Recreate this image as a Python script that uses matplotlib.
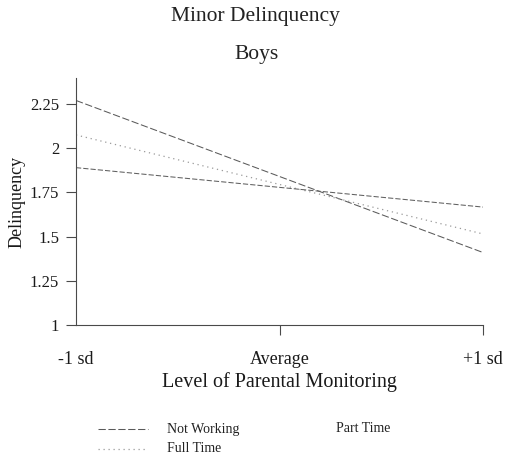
import matplotlib
matplotlib.use("Agg")
import matplotlib.pyplot as plt
from matplotlib.lines import Line2D

# data
x_pos = [-1, 1]
x_ticks = [-1, 0, 1]
x_labels = ["-1 sd", "Average", "+1 sd"]
y_ticks = [1, 1.25, 1.5, 1.75, 2, 2.25]
y_labels = ["1", "1.25", "1.5", "1.75", "2", "2.25"]

not_working = [2.27, 1.41]
full_time = [2.075, 1.515]
part_time = [1.89, 1.667]

plt.rcParams["font.family"] = ["Liberation Serif", "DejaVu Serif"]

fig = plt.figure(figsize=(5.05, 4.59), dpi=100)
ax = fig.add_axes([76 / 505, 1 - 325 / 459, 407 / 505, (325 - 78) / 459])

axis_col = "#4a4a4a"
styles = {
    "nw": dict(color="#5a5a5a", lw=0.75, dashes=(7, 2.5)),
    "ft": dict(color="#9a9a9a", lw=0.9, dashes=(1, 3)),
    "pt": dict(color="#606060", lw=0.75, dashes=(5, 2)),
}
ax.plot(x_pos, not_working, **styles["nw"])
ax.plot(x_pos, full_time, **styles["ft"])
ax.plot(x_pos, part_time, **styles["pt"])

ax.set_xlim(-1, 1)
ax.set_ylim(1, 1 + (325 - 78) / 176.8)

ax.set_xticks(x_ticks)
ax.set_xticklabels(x_labels, fontsize=13, color="#1a1a1a")
ax.set_yticks(y_ticks)
ax.set_yticklabels(y_labels, fontsize=12, color="#1a1a1a")
ax.tick_params(axis="both", direction="out", length=7.2, width=0.8, color=axis_col)
ax.tick_params(axis="x", pad=11.5)
ax.tick_params(axis="y", pad=5)
ax.get_xticklines()[0].set_visible(False)

for side in ["top", "right"]:
    ax.spines[side].set_visible(False)
for side in ["left", "bottom"]:
    ax.spines[side].set_color(axis_col)
    ax.spines[side].set_linewidth(0.8)

ax.set_xlabel("Level of Parental Monitoring", fontsize=14.5, labelpad=3, color="#1a1a1a")
ax.set_ylabel("Delinquency", fontsize=13, labelpad=3, color="#1a1a1a")

fig.text(255 / 505, 1 - 17 / 459, "Minor Delinquency", fontsize=15.5,
         ha="center", va="center", color="#222222")
fig.text(257 / 505, 1 - 55 / 459, "Boys", fontsize=15.5,
         ha="center", va="center", color="#222222")

# legend drawn by hand to match the placement (Part Time has no sample in the original)
legend_items = [
    ("nw", "Not Working", 98, 167, 429),
    ("ft", "Full Time", 98, 167, 449),
    (None, "Part Time", 287, 336, 429),
]
for key, label, x0, tx, ty in legend_items:
    if key is not None:
        fig.add_artist(Line2D([x0 / 505, (x0 + 50) / 505], [1 - ty / 459] * 2, **styles[key]))
    fig.text(tx / 505, 1 - ty / 459, label, fontsize=10, ha="left", va="center",
             color="#222222")

fig.savefig("out.png", dpi=100)
